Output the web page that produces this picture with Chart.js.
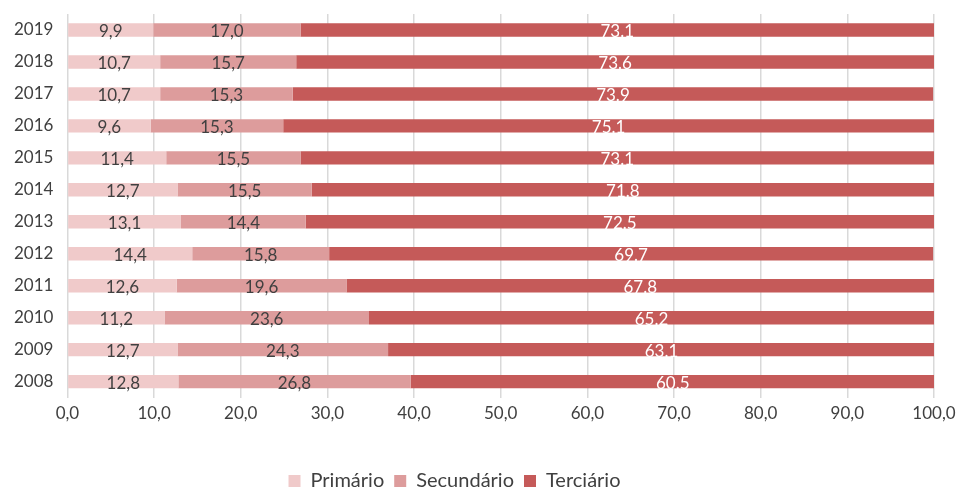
<!DOCTYPE html>
<html>
<head>
<meta charset="utf-8">
<script src="https://cdn.jsdelivr.net/npm/chart.js@4/dist/chart.umd.min.js"></script>
<style>
  html, body { margin: 0; padding: 0; background: #fff; }
  #wrap { width: 959px; height: 488px; }
</style>
</head>
<body>
<div id="wrap"><canvas id="mycanvas"></canvas></div>
<script>
// shares by sector, per year (%)
var anos = ['2008', '2009', '2010', '2011', '2012', '2013', '2014', '2015', '2016', '2017', '2018', '2019'];
var primario = [12.8, 12.7, 11.2, 12.6, 14.4, 13.1, 12.7, 11.4, 9.6, 10.7, 10.7, 9.9];
var secundario = [26.8, 24.3, 23.6, 19.6, 15.8, 14.4, 15.5, 15.5, 15.3, 15.3, 15.7, 17.0];
var terciario = [60.5, 63.1, 65.2, 67.8, 69.7, 72.5, 71.8, 73.1, 75.1, 73.9, 73.6, 73.1];

var fonte = 'Lato, "Open Sans", sans-serif';

// writes the value inside every bar segment
var rotulos = {
	id: 'rotulos',
	afterDatasetsDraw: function(chart) {
		var ctx = chart.ctx;
		ctx.save();
		ctx.font = '17px ' + fonte;
		ctx.textAlign = 'center';
		ctx.textBaseline = 'middle';
		chart.data.datasets.forEach(function(ds, i) {
			var meta = chart.getDatasetMeta(i);
			meta.data.forEach(function(bar, j) {
				var v = ds.data[j];
				var txt = ds.sepDecimal === ',' ? v.toFixed(1).replace('.', ',') : v.toFixed(1);
				ctx.fillStyle = ds.corRotulo;
				ctx.fillText(txt, (bar.base + bar.x) / 2, bar.y + 2);
			});
		});
		ctx.restore();
	}
};

// nudges the legend a little to the left of the canvas centre
var legendaDesloc = {
	id: 'legendaDesloc',
	afterUpdate: function(chart) {
		chart.legend.left -= 25;
		chart.legend.right -= 25;
	}
};

var chartdata = {
	labels: anos,
	datasets: [{
		label: 'Primário',
		data: primario,
		backgroundColor: '#f0caca',
		corRotulo: '#404040',
		sepDecimal: ','
	}, {
		label: 'Secundário',
		data: secundario,
		backgroundColor: '#dd9c9c',
		corRotulo: '#404040',
		sepDecimal: ','
	}, {
		label: 'Terciário',
		data: terciario,
		backgroundColor: '#c55a59',
		corRotulo: '#ffffff',
		sepDecimal: '.'
	}]
};

new Chart(document.getElementById('mycanvas'), {
	type: 'bar',
	data: chartdata,
	plugins: [rotulos, legendaDesloc],
	options: {
		indexAxis: 'y',
		responsive: true,
		maintainAspectRatio: false,
		animation: false,
		layout: { padding: { top: 14, right: 0, left: 0, bottom: -13 } },
		datasets: {
			bar: { barPercentage: 0.42, categoryPercentage: 1.0, borderWidth: 0 }
		},
		scales: {
			x: {
				stacked: true,
				min: 0,
				max: 100,
				ticks: {
					stepSize: 10,
					color: '#404040',
					font: { family: fonte, size: 17 },
					padding: 6,
					callback: function(v) { return v.toFixed(1).replace('.', ','); }
				},
				grid: { color: '#d9d9d9', lineWidth: 1.5, drawTicks: false },
				border: { display: false },
				// room between the tick labels and the legend
				afterFit: function(scale) {
					scale.height += 31;
					scale.paddingRight = 25;
				}
			},
			y: {
				stacked: true,
				reverse: true,
				ticks: {
					color: '#404040',
					font: { family: fonte, size: 17 },
					padding: 14
				},
				grid: { display: false, drawTicks: false },
				border: { display: false },
				afterFit: function(scale) {
					scale.paddingTop = 0;
					scale.paddingBottom = 0;
				}
			}
		},
		plugins: {
			legend: {
				position: 'bottom',
				labels: {
					color: '#404040',
					font: { family: fonte, size: 20 },
					boxWidth: 12,
					boxHeight: 12,
					padding: 10
				}
			},
			tooltip: { enabled: false }
		}
	}
});
</script>
</body>
</html>
